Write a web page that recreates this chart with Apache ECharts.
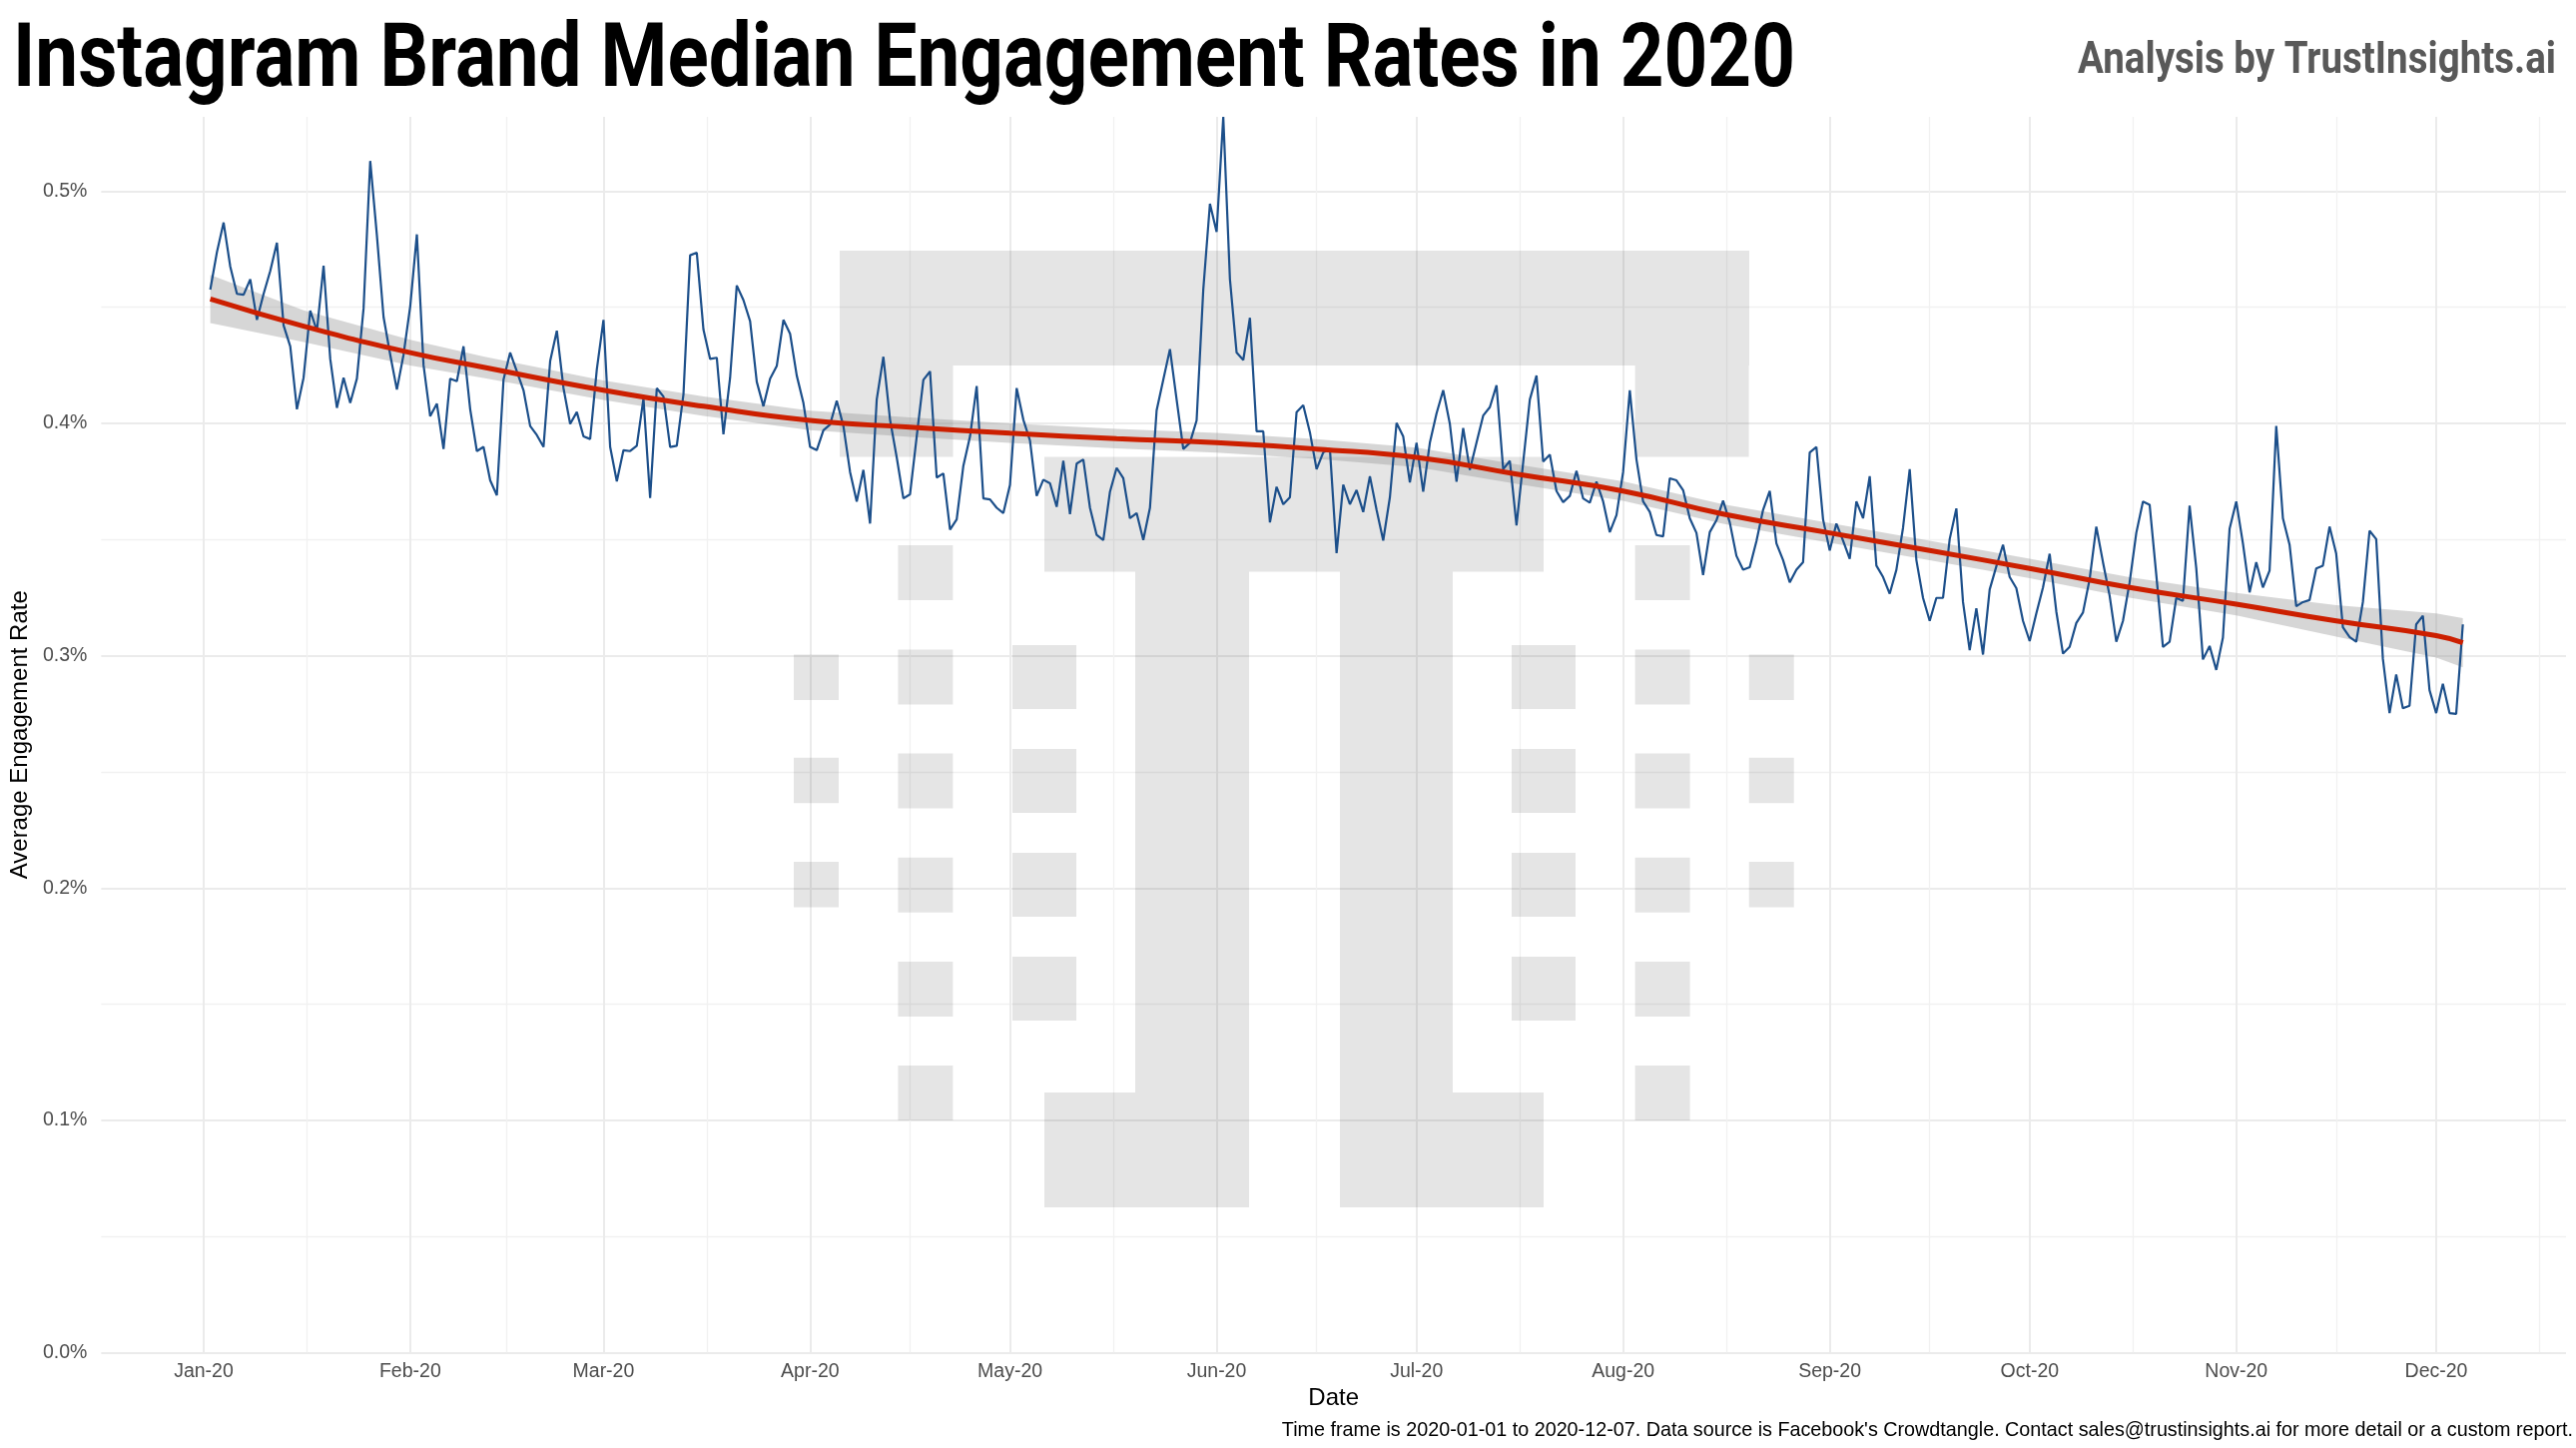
<!DOCTYPE html>
<html>
<head>
<meta charset="utf-8">
<script src="https://cdn.jsdelivr.net/npm/echarts@6/dist/echarts.min.js"></script>
<style>html,body{margin:0;padding:0;background:#fff}#c{width:2580px;height:1450px}</style>
</head>
<body>
<div id="c"></div>
<script>
// ---------------- DATA ----------------
const startDate = '2020-01-02'; // first daily observation (one value per day)
const rates = [ // average engagement rate, percent
0.4576,0.4738,0.4865,0.4675,0.4558,0.4554,0.4621,0.4446,0.4558,0.4657,
0.4778,0.4422,0.4332,0.4061,0.4197,0.4486,0.4399,0.4679,0.4278,0.4067,
0.4197,0.4088,0.4193,0.4495,0.5130,0.4810,0.4458,0.4296,0.4146,0.4296,
0.4504,0.4814,0.4251,0.4031,0.4085,0.3890,0.4193,0.4182,0.4332,0.4061,
0.3881,0.3899,0.3755,0.3691,0.4188,0.4305,0.4224,0.4143,0.3989,0.3950,
0.3899,0.4269,0.4399,0.4152,0.3998,0.4049,0.3944,0.3933,0.4233,0.4446,
0.3899,0.3751,0.3885,0.3881,0.3904,0.4107,0.3679,0.4152,0.4116,0.3899,
0.3904,0.4125,0.4724,0.4735,0.4404,0.4278,0.4283,0.3953,0.4197,0.4594,
0.4531,0.4440,0.4179,0.4074,0.4193,0.4247,0.4446,0.4386,0.4206,0.4088,
0.3899,0.3885,0.3971,0.3995,0.4098,0.3989,0.3791,0.3664,0.3800,0.3569,
0.4103,0.4287,0.4016,0.3854,0.3677,0.3695,0.3944,0.4188,0.4224,0.3767,
0.3785,0.3543,0.3587,0.3818,0.3944,0.4161,0.3677,0.3673,0.3637,0.3614,
0.3736,0.4152,0.4016,0.3926,0.3688,0.3758,0.3742,0.3641,0.3839,0.3610,
0.3827,0.3845,0.3637,0.3520,0.3498,0.3706,0.3809,0.3764,0.3592,0.3614,
0.3498,0.3637,0.4056,0.4188,0.4320,0.4103,0.3890,0.3917,0.4013,0.4576,
0.4946,0.4825,0.5320,0.4621,0.4305,0.4273,0.4455,0.3966,0.3966,0.3574,
0.3727,0.3652,0.3682,0.4049,0.4079,0.3962,0.3803,0.3875,0.3890,0.3442,
0.3736,0.3652,0.3713,0.3619,0.3773,0.3628,0.3496,0.3682,0.4002,0.3944,
0.3746,0.3917,0.3706,0.3917,0.4043,0.4143,0.3998,0.3749,0.3980,0.3800,
0.3917,0.4034,0.4070,0.4164,0.3803,0.3839,0.3561,0.3832,0.4103,0.4206,
0.3836,0.3866,0.3709,0.3661,0.3688,0.3796,0.3677,0.3659,0.3749,0.3664,
0.3532,0.3605,0.3791,0.4143,0.3845,0.3664,0.3619,0.3520,0.3514,0.3764,
0.3755,0.3713,0.3592,0.3529,0.3348,0.3532,0.3583,0.3668,0.3574,0.3430,
0.3370,0.3381,0.3493,0.3628,0.3709,0.3484,0.3412,0.3316,0.3370,0.3403,
0.3875,0.3899,0.3587,0.3453,0.3569,0.3496,0.3417,0.3664,0.3592,0.3773,
0.3388,0.3339,0.3267,0.3370,0.3551,0.3803,0.3412,0.3249,0.3150,0.3249,
0.3249,0.3502,0.3634,0.3231,0.3024,0.3204,0.3005,0.3285,0.3385,0.3478,
0.3339,0.3291,0.3150,0.3063,0.3182,0.3294,0.3439,0.3190,0.3009,0.3038,
0.3141,0.3186,0.3330,0.3556,0.3403,0.3258,0.3060,0.3150,0.3316,0.3529,
0.3664,0.3650,0.3348,0.3038,0.3060,0.3249,0.3236,0.3646,0.3376,0.2984,
0.3042,0.2939,0.3078,0.3547,0.3664,0.3484,0.3273,0.3403,0.3294,0.3367,
0.3989,0.3592,0.3478,0.3213,0.3231,0.3240,0.3376,0.3388,0.3556,0.3439,
0.3123,0.3081,0.3060,0.3231,0.3538,0.3502,0.2987,0.2753,0.2919,0.2774,
0.2785,0.3135,0.3172,0.2852,0.2753,0.2879,0.2753,0.2750,0.3135
];
// loess trend line and its confidence band, read at these dates
const smoothDates = ['2020-01-02','2020-01-16','2020-02-01','2020-02-12','2020-03-01','2020-03-16',
  '2020-04-01','2020-04-16','2020-05-01','2020-05-17','2020-06-01','2020-06-16','2020-07-01','2020-07-16',
  '2020-08-01','2020-08-16','2020-09-01','2020-09-16','2020-10-01','2020-10-16','2020-11-01','2020-11-16',
  '2020-12-01','2020-12-05'];
const smoothFit = [0.4536,0.4419,0.4305,0.4242,0.4143,0.4074,0.4013,0.3984,0.3958,0.3935,0.3917,0.3890,
  0.3854,0.3782,0.3709,0.3610,0.3529,0.3453,0.3376,0.3294,0.3222,0.3150,0.3087,0.3056];
const smoothUpper = [0.4640,0.4487,0.4360,0.4288,0.4185,0.4116,0.4055,0.4026,0.4000,0.3977,0.3959,0.3932,
  0.3896,0.3824,0.3751,0.3652,0.3571,0.3495,0.3418,0.3338,0.3270,0.3218,0.3182,0.3162];
const smoothLower = [0.4432,0.4351,0.4250,0.4196,0.4101,0.4032,0.3971,0.3942,0.3916,0.3893,0.3875,0.3848,
  0.3812,0.3740,0.3667,0.3568,0.3487,0.3411,0.3334,0.3250,0.3174,0.3082,0.2992,0.2950];
// axis ticks
const monthTicks = ['2020-01-01','2020-02-01','2020-03-01','2020-04-01','2020-05-01','2020-06-01',
  '2020-07-01','2020-08-01','2020-09-01','2020-10-01','2020-11-01','2020-12-01'];
const monthLabels = ['Jan-20','Feb-20','Mar-20','Apr-20','May-20','Jun-20','Jul-20','Aug-20','Sep-20','Oct-20','Nov-20','Dec-20'];
const yTicks = [0, 0.1, 0.2, 0.3, 0.4, 0.5];
const yTickLabels = ['0.0%','0.1%','0.2%','0.3%','0.4%','0.5%'];
const yMinorTicks = [0.05, 0.15, 0.25, 0.35, 0.45];

// ---------------- BUILD ----------------
const DAY = 86400000;
const t0 = Date.parse(startDate);
const lineData = rates.map((v, i) => [t0 + i * DAY, v]);
const sX = smoothDates.map(d => Date.parse(d));
const fitData = smoothFit.map((v, i) => [sX[i], v]);
const bandData = smoothFit.map((v, i) => [sX[i], smoothLower[i], smoothUpper[i]]);
const majorX = monthTicks.map(d => Date.parse(d));
const ext = [Date.parse('2019-12-01')].concat(majorX, [Date.parse('2021-01-01')]);
const minorX = [];
for (let i = 1; i < ext.length; i++) minorX.push((ext[i - 1] + ext[i]) / 2);
const jan1 = Date.parse('2020-01-01');
const xMin = jan1 - 15.37 * DAY, xMax = jan1 + 354.48 * DAY;

function measure(text, font) {
  const c = document.createElement('canvas').getContext('2d');
  c.font = font; return c.measureText(text).width;
}
const titleText = 'Instagram Brand Median Engagement Rates in 2020';
const titleFont = 'bold 89px Roboto';
const titleScale = 1785 / measure(titleText, titleFont);
const subText = 'Analysis by TrustInsights.ai';
const subFont = 'bold 44px Roboto';
const subScale = 479 / measure(subText, subFont);
const footText = "Time frame is 2020-01-01 to 2020-12-07. Data source is Facebook's Crowdtangle. Contact sales@trustinsights.ai for more detail or a custom report.";
const footSize = 20 * 1293 / measure(footText, '20px "Liberation Sans"');

// watermark logo blocks [x, y, w, h]
const logoRects = [
  [841,251,911,115],[841,366,113.5,91.5],[1637.6,366,114,91.5],
  [1046,457.5,500,115],[1137,572.5,114,521.5],[1342,572.5,113,521.5],
  [1046,1094,205,115],[1342,1094,204,115]
];
[[795,45,[655.6,758.8,863],45.5],[1751.7,45,[655.6,758.8,863],45.5],
 [899.4,55,[546,650.6,754.4,858.8,963,1067],55],[1637.6,55,[546,650.6,754.4,858.8,963,1067],55],
 [1014,64,[646,750,854,958],64],[1514,64,[646,750,854,958],64]].forEach(c => {
  c[2].forEach(y => logoRects.push([c[0], y, c[1], c[3]]));
});
const graphics = logoRects.map(r => ({
  type: 'rect', z: 1, silent: true,
  shape: {x: r[0], y: r[1], width: r[2], height: r[3]},
  style: {fill: 'rgba(0,0,0,0.1)'}
}));
graphics.push({type: 'text', x: 13, y: 64, scaleX: titleScale, z: 10,
  style: {text: titleText, font: titleFont, fill: '#000', align: 'left', verticalAlign: 'middle'}});
graphics.push({type: 'text', x: 2560 - 479, y: 62, scaleX: subScale, z: 10,
  style: {text: subText, font: subFont, fill: '#595959', align: 'left', verticalAlign: 'middle'}});
graphics.push({type: 'text', x: 2577, y: 1433, z: 10,
  style: {text: footText, font: footSize.toFixed(2) + 'px "Liberation Sans"', fill: '#000', align: 'right', verticalAlign: 'middle'}});

const tickFont = {color: '#4d4d4d', fontSize: 19.5, fontFamily: 'Liberation Sans'};
const chart = echarts.init(document.getElementById('c'), null, {renderer: 'canvas'});
chart.setOption({
  animation: false,
  backgroundColor: '#fff',
  grid: {left: 97, right: 10, top: 117, bottom: 95.5, containLabel: false},
  graphic: graphics,
  xAxis: [{
    type: 'value', min: xMin, max: xMax, position: 'bottom',
    axisLine: {show: false},
    axisTick: {show: false, customValues: majorX},
    axisLabel: Object.assign({customValues: majorX, margin: 9,
      formatter: v => monthLabels[majorX.indexOf(v)] || ''}, tickFont),
    splitLine: {show: true, lineStyle: {color: '#ebebeb', width: 2}},
    name: 'Date', nameLocation: 'middle', nameGap: 34,
    nameTextStyle: {color: '#000', fontSize: 24, fontFamily: 'Liberation Sans'}
  }, {
    type: 'value', min: xMin, max: xMax, position: 'top',
    axisLine: {show: false}, axisLabel: {show: false},
    axisTick: {show: false, customValues: minorX},
    splitLine: {show: true, lineStyle: {color: '#f1f1f1', width: 1.3}}
  }],
  yAxis: [{
    type: 'value', min: 0, max: 0.532,
    axisLine: {show: false},
    axisTick: {show: false, customValues: yTicks},
    axisLabel: Object.assign({customValues: yTicks, margin: 14,
      formatter: v => yTickLabels[yTicks.indexOf(v)] || ''}, tickFont),
    splitLine: {show: true, lineStyle: {color: '#ebebeb', width: 2}},
    name: 'Average Engagement Rate', nameLocation: 'middle', nameGap: 65, nameRotate: 90,
    nameTextStyle: {color: '#000', fontSize: 24, fontFamily: 'Liberation Sans'}
  }, {
    type: 'value', min: 0, max: 0.532, position: 'right',
    axisLine: {show: false}, axisLabel: {show: false},
    axisTick: {show: false, customValues: yMinorTicks},
    splitLine: {show: true, lineStyle: {color: '#f1f1f1', width: 1.3}}
  }],
  series: [{
    name: 'Engagement', type: 'line', data: lineData, showSymbol: false, symbol: 'none',
    lineStyle: {color: '#1c4f8a', width: 2.2}, silent: true
  }, {
    name: 'Confidence band', type: 'custom', data: bandData, silent: true,
    encode: {x: 0, y: [1, 2]},
    renderItem: function (params, api) {
      if (params.dataIndex !== 0) return null;
      const pts = [];
      for (let i = 0; i < bandData.length; i++) pts.push(api.coord([bandData[i][0], bandData[i][2]]));
      for (let i = bandData.length - 1; i >= 0; i--) pts.push(api.coord([bandData[i][0], bandData[i][1]]));
      return {type: 'polygon', shape: {points: pts}, style: {fill: 'rgba(153,153,153,0.4)'}};
    }
  }, {
    name: 'Trend', type: 'line', data: fitData, smooth: true, symbol: 'none',
    lineStyle: {color: '#cc1f00', width: 5}, silent: true
  }]
});
</script>
</body>
</html>
